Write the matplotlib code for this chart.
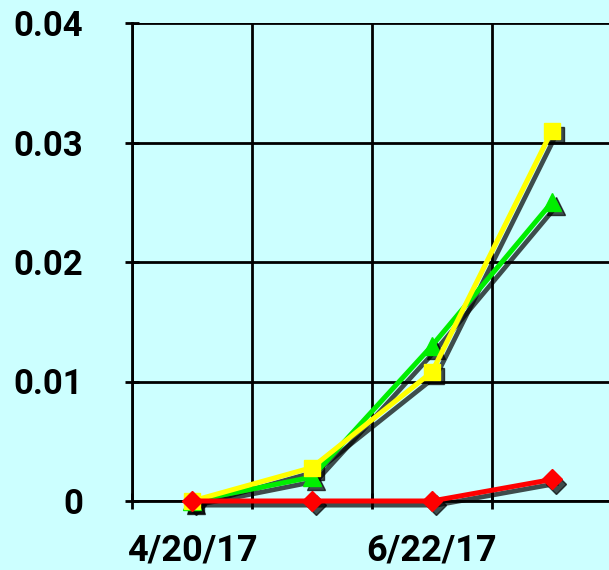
# %% libraries
import matplotlib.pyplot as plt
import matplotlib.transforms as mtransforms
from matplotlib.ticker import FixedLocator

# %% data
dates = ['4/20/17', '5/22/17', '6/22/17', '7/20/17']
green_vals = [0.0, 0.002, 0.013, 0.025]
yellow_vals = [0.0, 0.0028, 0.0108, 0.031]
red_vals = [0.0, 0.0, 0.0, 0.0018]
shown_labels = ['4/20/17', '', '6/22/17', '']

# %% figure
bg = '#CCFFFF'
plt.rcParams['font.family'] = ['Roboto', 'DejaVu Sans']
fig = plt.figure(figsize=(6.09, 5.70), dpi=100, facecolor=bg)
ax = fig.add_axes([132 / 609, 69 / 570, 480 / 609, 478 / 570])
ax.set_facecolor(bg)

x = list(range(len(dates)))
shadow = ax.transData + mtransforms.ScaledTranslation(3 / 72, -3 / 72, fig.dpi_scale_trans)

series = [
    (green_vals, '#00EE00', '^', 13),
    (yellow_vals, '#FFFF00', 's', 12),
    (red_vals, '#FF0000', 'D', 10),
]
for vals, col, mk, ms in series:
    ax.plot(x, vals, color='black', lw=3.4, marker=mk, ms=ms, alpha=0.7,
            transform=shadow, solid_joinstyle='round', zorder=3, clip_on=False)
    ax.plot(x, vals, color=col, lw=3.6, marker=mk, ms=ms, mec=col,
            solid_joinstyle='round', zorder=4, clip_on=False)

# %% axes
ax.set_xlim(-0.5, 3.5)
ax.set_ylim(0, 0.04)
ax.xaxis.set_major_locator(FixedLocator([-0.5, 0.5, 1.5, 2.5, 3.5]))
ax.xaxis.set_minor_locator(FixedLocator(x))
ax.set_xticklabels([], minor=False)
ax.set_xticklabels(shown_labels, minor=True, fontsize=26, fontweight='bold')
ax.set_yticks([0, 0.01, 0.02, 0.03, 0.04])
ax.set_yticklabels(['0', '0.01', '0.02', '0.03', '0.04'], fontsize=25, fontweight='bold')

ax.tick_params(axis='x', which='major', direction='inout', length=12, width=2)
ax.tick_params(axis='x', which='minor', length=0, pad=23)
ax.tick_params(axis='y', direction='inout', length=10, width=2, pad=30)
ax.grid(True, which='major', color='black', lw=2)

for side in ['right', 'top']:
    ax.spines[side].set_visible(False)
ax.spines['left'].set_linewidth(2)
ax.spines['bottom'].set_linewidth(2)

plt.savefig('out.png', dpi=100, facecolor=bg)
